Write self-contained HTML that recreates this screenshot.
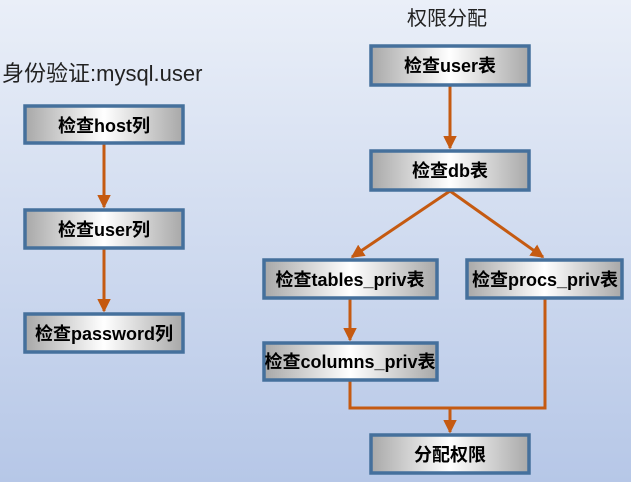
<!DOCTYPE html>
<html><head><meta charset="utf-8"><style>
html,body{margin:0;padding:0;width:631px;height:482px;overflow:hidden}
svg text{font-family:"Liberation Sans","Noto Sans CJK SC",sans-serif}
</style></head><body>
<svg width="631" height="482" xmlns="http://www.w3.org/2000/svg">
<defs>
<linearGradient id="bg" x1="0" y1="0" x2="0" y2="1">
<stop offset="0" stop-color="#eaeff8"/><stop offset="1" stop-color="#b6c7e7"/></linearGradient>
<linearGradient id="bx" x1="0" y1="0" x2="1" y2="0">
<stop offset="0" stop-color="#a8a8a8"/><stop offset="0.5" stop-color="#ffffff"/><stop offset="1" stop-color="#a8a8a8"/></linearGradient>
<marker id="ar" markerWidth="4.5" markerHeight="4.5" refX="4" refY="2.25" orient="auto" markerUnits="strokeWidth">
<path d="M0,0 L4.5,2.25 L0,4.5 z" fill="#c55a11"/></marker>
</defs>
<rect width="631" height="482" fill="url(#bg)"/>
<text x="2" y="81" font-size="22" fill="#222">身份验证:mysql.user</text>
<text x="447" y="25" font-size="20" fill="#222" text-anchor="middle">权限分配</text>
<g stroke="#c55a11" stroke-width="3" fill="none">
<line x1="104" y1="144" x2="104" y2="207" marker-end="url(#ar)"/>
<line x1="104" y1="249" x2="104" y2="311" marker-end="url(#ar)"/>
<line x1="450" y1="86" x2="450" y2="148" marker-end="url(#ar)"/>
<line x1="450" y1="191" x2="352" y2="257" marker-end="url(#ar)"/>
<line x1="450" y1="191" x2="543" y2="257" marker-end="url(#ar)"/>
<line x1="350" y1="299" x2="350" y2="340" marker-end="url(#ar)"/>
<polyline points="350,381 350,408 545,408 545,299"/>
<line x1="450" y1="408" x2="450" y2="432" marker-end="url(#ar)"/>
</g>
<g stroke="#45709c" stroke-width="3.5" fill="url(#bx)">
<rect x="25" y="106" width="158" height="37"/>
<rect x="25" y="210" width="158" height="38"/>
<rect x="25" y="314" width="158" height="38"/>
<rect x="371" y="46" width="158" height="39"/>
<rect x="371" y="151" width="158" height="39"/>
<rect x="264" y="260" width="173" height="38"/>
<rect x="467" y="260" width="155" height="38"/>
<rect x="264" y="343" width="173" height="37"/>
<rect x="371" y="435" width="158" height="38"/>
</g>
<g font-size="18" font-weight="bold" fill="#000" text-anchor="middle">
<text x="104" y="132">检查host列</text>
<text x="104" y="236">检查user列</text>
<text x="104" y="340">检查password列</text>
<text x="450" y="72">检查user表</text>
<text x="450" y="177">检查db表</text>
<text x="350" y="286">检查tables_priv表</text>
<text x="545" y="286">检查procs_priv表</text>
<text x="350" y="368">检查columns_priv表</text>
<text x="450" y="461">分配权限</text>
</g>
</svg>
</body></html>
